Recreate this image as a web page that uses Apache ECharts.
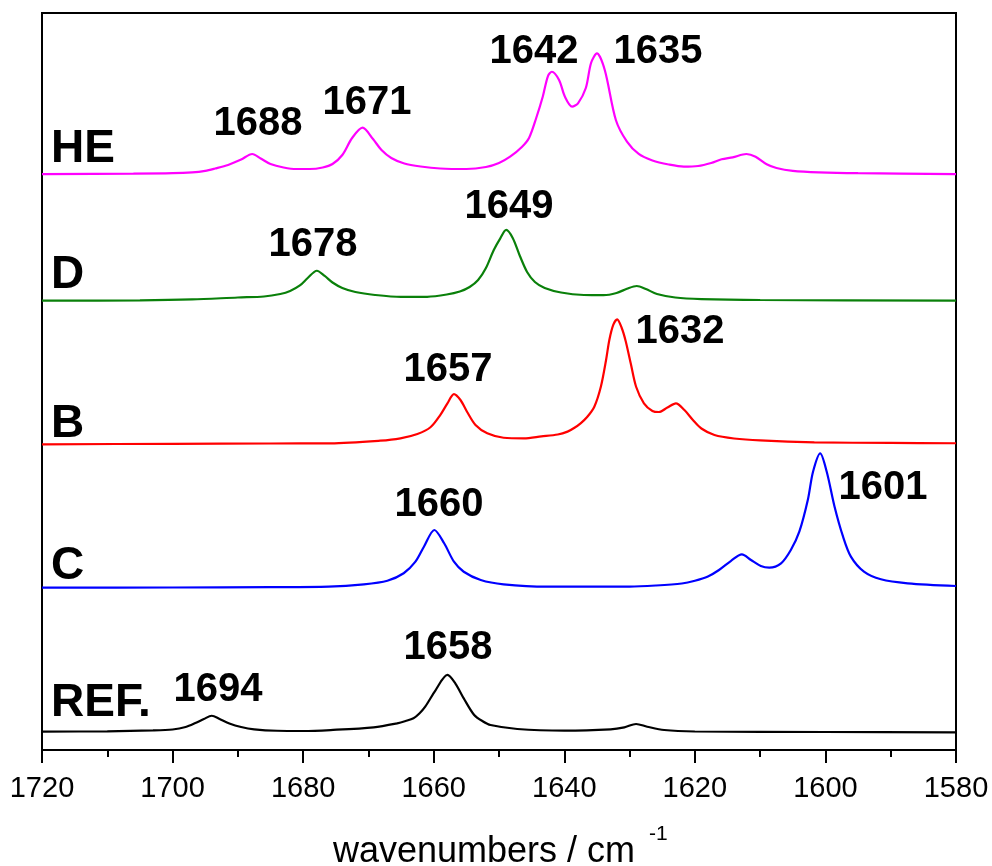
<!DOCTYPE html>
<html>
<head>
<meta charset="utf-8">
<script src="https://cdn.jsdelivr.net/npm/echarts@6/dist/echarts.min.js"></script>
<style>
html,body{margin:0;padding:0;background:#fff;}
#chart{width:992px;height:866px;}
</style>
</head>
<body>
<div id="chart"></div>
<script>
// ---- data (wavenumber / stacked intensity, offsets included) ----
const heW = [1720,1706,1700,1697,1695,1693.5,1691.5,1689.5,1687.8,1686.5,1685,1683,1681,1679,1677,1675.5,1674,1672.5,1670.9,1669.3,1668,1666.5,1664.5,1662,1659,1655,1652,1650,1648.3,1646.5,1645.4,1644.3,1643.3,1642.5,1641.9,1640.8,1639.9,1638.8,1637.9,1636.7,1635.9,1635,1633.8,1632.1,1630.4,1628.6,1626.5,1624,1621.7,1619.5,1617.5,1615.9,1614.2,1612.1,1610.7,1609,1607.5,1605,1601,1595,1580];
const heV = [78.15,78.20,78.26,78.38,78.59,78.90,79.38,80.12,80.87,80.26,79.51,79.04,78.83,78.83,79.04,79.51,80.73,83.04,84.44,82.90,81.41,80.33,79.58,79.17,78.90,78.83,79.10,79.65,80.50,81.82,83.04,85.75,88.64,91.45,92.03,90.91,88.64,87.29,87.75,89.82,93.22,94.53,92.27,85.48,82.54,80.87,79.99,79.44,79.15,79.24,79.65,80.15,80.42,80.87,80.50,79.47,78.97,78.59,78.38,78.26,78.15];

const dW = [1720,1705,1697,1690,1686,1683.5,1682,1680.5,1679.3,1677.9,1676.7,1675.5,1674,1672,1669,1665,1661,1658,1656,1654.5,1653.2,1652,1650.8,1649.8,1648.9,1647.9,1646.8,1645.7,1644.5,1643,1640.5,1637,1634,1632,1630.4,1628.9,1627.5,1625.8,1623,1619,1610,1580];
const dV = [60.96,61.01,61.13,61.40,61.53,61.87,62.28,63.03,64.04,65.03,64.32,63.43,62.69,62.14,61.74,61.47,61.49,61.80,62.21,62.82,63.77,65.40,67.84,69.43,70.56,69.47,67.03,64.86,63.50,62.69,62.08,61.74,61.71,62.01,62.58,62.96,62.55,61.87,61.40,61.19,61.06,60.96];

const bW = [1720,1700,1685,1675.8,1668.2,1665.1,1662.5,1660.5,1659,1657.9,1656.9,1655.9,1654.9,1653.6,1651.8,1649.3,1646.2,1643.5,1641,1639.5,1638.5,1637.5,1636.5,1635.4,1634.4,1633.6,1633.1,1632.5,1631.9,1631.2,1630.6,1629.8,1629,1627.8,1626.5,1625.5,1624.2,1622.9,1621.6,1620.3,1619,1617,1614,1610,1601.7,1590,1580];
const bV = [41.48,41.55,41.59,41.61,41.97,42.29,42.88,43.79,45.45,47.04,48.30,47.49,45.90,44.10,42.97,42.37,42.29,42.55,42.81,43.20,43.69,44.33,45.18,46.58,49.29,52.92,55.63,57.67,58.44,57.26,55.50,52.37,49.29,47.04,46.00,45.86,46.47,47.04,46.13,44.78,43.62,42.74,42.27,42.00,41.75,41.66,41.62];

const cW = [1720,1700,1685,1676.1,1670.7,1667.1,1664.6,1662.8,1661.5,1659.9,1658.4,1656.9,1655.4,1652.8,1649.3,1642.6,1637.2,1630,1626,1622,1620,1618,1616.3,1614.5,1612.8,1611.4,1609.9,1608.6,1606.8,1605.3,1604,1602.7,1601.9,1600.8,1599.8,1598.6,1597.3,1596.1,1594.1,1591.5,1587.4,1580];
const cV = [22.02,22.05,22.09,22.16,22.48,22.97,23.98,25.55,27.58,29.85,28.05,25.55,24.19,23.07,22.48,22.16,22.18,22.18,22.32,22.59,22.96,23.54,24.42,25.64,26.55,25.78,24.97,24.74,25.33,27.14,29.62,33.92,37.76,40.26,37.76,33.01,28.94,26.23,24.19,23.16,22.62,22.25];

const refW = [1720,1710,1703,1700,1698,1696.5,1695.2,1694,1692.8,1691.3,1689.5,1687.5,1684,1680,1675.8,1669.2,1665.6,1664.3,1663.1,1662.2,1661.3,1659.7,1657.9,1656.7,1655.4,1653.8,1652.5,1651.3,1647.2,1640,1632.9,1630.8,1629,1627.3,1624.7,1620,1600,1580];
const refV = [2.48,2.54,2.65,2.78,3.12,3.66,4.21,4.65,4.21,3.60,3.12,2.81,2.61,2.58,2.71,3.08,3.62,3.93,4.30,4.95,5.88,8.14,10.18,9.05,7.01,4.75,3.90,3.39,2.85,2.62,2.81,3.08,3.53,3.16,2.71,2.51,2.44,2.40];

const seriesNames = ['HE','D','B','C','REF.'];
const peakLabels = ['1688','1671','1642','1635','1678','1649','1657','1632','1660','1601','1694','1658'];
const xTicks = [1720,1700,1680,1660,1640,1620,1600,1580];
const axisTitle = 'wavenumbers / cm';
const axisTitleSup = '-1';

// ---- layout / styles ----
const colors = ['#ff00ff','#0a800a','#ff0000','#0000ff','#000000'];
const FONT = '"Liberation Sans", Arial, Helvetica, sans-serif';
const peakPos = [[258,124],[367,103],[534,52],[658,52],[313,245],[509,207],[448,370],[680,332],[439,505],[883,488],[218,690],[448,648]];
const namePos = [[51,149],[51,275],[51,424],[51,566],[51,703]];

const pairs = (w, v) => w.map((x, i) => [x, v[i]]);
const spectra = [pairs(heW, heV), pairs(dW, dV), pairs(bW, bV), pairs(cW, cV), pairs(refW, refV)];

const graphics = [];
peakLabels.forEach((t, i) => graphics.push({
  type: 'text', x: peakPos[i][0], y: peakPos[i][1], silent: true,
  style: { text: t, fill: '#000', font: 'bold 40px ' + FONT, textAlign: 'center', textVerticalAlign: 'middle' }
}));
seriesNames.forEach((t, i) => graphics.push({
  type: 'text', x: namePos[i][0], y: namePos[i][1], silent: true,
  style: { text: t, fill: '#000', font: 'bold 46px ' + FONT, textAlign: 'left', textVerticalAlign: 'middle' }
}));
graphics.push({ type: 'text', x: 333, y: 852, silent: true,
  style: { text: axisTitle, fill: '#000', font: '36px ' + FONT, textAlign: 'left', textVerticalAlign: 'middle' } });
graphics.push({ type: 'text', x: 649, y: 834, silent: true,
  style: { text: axisTitleSup, fill: '#000', font: '21px ' + FONT, textAlign: 'left', textVerticalAlign: 'middle' } });

const chart = echarts.init(document.getElementById('chart'), null, { renderer: 'canvas' });
chart.setOption({
  animation: false,
  backgroundColor: '#fff',
  grid: { left: 42, right: 36, top: 13, bottom: 116, show: true, borderColor: '#000', borderWidth: 2, backgroundColor: 'transparent' },
  xAxis: {
    type: 'value', min: xTicks[xTicks.length - 1], max: xTicks[0], interval: 20, inverse: true,
    axisLine: { show: true, onZero: false, lineStyle: { color: '#000', width: 2 } },
    axisTick: { show: true, inside: false, length: 13, lineStyle: { color: '#000', width: 2 } },
    minorTick: { show: true, splitNumber: 2, length: 7, lineStyle: { color: '#000', width: 2 } },
    axisLabel: { color: '#000', fontSize: 29, fontFamily: FONT, margin: 24, formatter: v => String(v) },
    splitLine: { show: false }
  },
  yAxis: {
    type: 'value', min: 0, max: 100,
    axisLine: { show: false }, axisTick: { show: false }, axisLabel: { show: false }, splitLine: { show: false }
  },
  series: spectra.map((d, i) => ({
    type: 'line', name: seriesNames[i], data: d, showSymbol: false, symbol: 'none',
    smooth: 0.3, lineStyle: { color: colors[i], width: 2.2 }, z: 3
  })),
  graphic: graphics
});
</script>
</body>
</html>
